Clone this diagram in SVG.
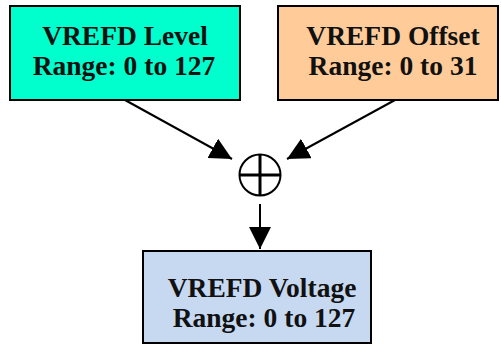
<svg xmlns="http://www.w3.org/2000/svg" width="501" height="344" viewBox="0 0 501 344">
<defs>
<style>
.box{stroke:#000;stroke-width:2}
.t{font-family:"Liberation Serif","Times New Roman",serif;font-weight:bold;font-size:27.5px;fill:#111;text-anchor:middle}
.c{stroke:#000;stroke-width:2;fill:none}
</style>
<marker id="ah" markerWidth="22" markerHeight="22" viewBox="0 0 22 22" refX="22" refY="11" orient="auto" markerUnits="userSpaceOnUse">
<path d="M0,0 L22,11 L0,22 Z" fill="#000"/>
</marker>
</defs>
<rect width="501" height="344" fill="#fff"/>
<g id="connectors">
<line class="c" x1="125" y1="100" x2="232" y2="159" marker-end="url(#ah)"/>
<line class="c" x1="395" y1="100" x2="287" y2="159" marker-end="url(#ah)"/>
<line class="c" x1="260" y1="204" x2="260" y2="249" marker-end="url(#ah)"/>
</g>
<g id="level">
<rect class="box" x="10" y="6" width="230" height="94" fill="#00FFCC"/>
<text class="t" x="125" y="45">VREFD Level</text>
<text class="t" x="124" y="75">Range: 0 to 127</text>
</g>
<g id="offset">
<rect class="box" x="278" y="6" width="220" height="94" fill="#FFCC99"/>
<text class="t" x="393" y="45">VREFD Offset</text>
<text class="t" x="393" y="75">Range: 0 to 31</text>
</g>
<g id="sum">
<circle cx="260" cy="175" r="20.5" fill="#fff" stroke="#000" stroke-width="2"/>
<line x1="260" y1="154" x2="260" y2="196" stroke="#000" stroke-width="3"/>
<line x1="239" y1="175" x2="281" y2="175" stroke="#000" stroke-width="3"/>
</g>
<g id="voltage">
<rect class="box" x="143" y="251" width="228" height="92" fill="#C6D9F1"/>
<text class="t" x="262" y="297">VREFD Voltage</text>
<text class="t" x="264" y="327">Range: 0 to 127</text>
</g>
</svg>
